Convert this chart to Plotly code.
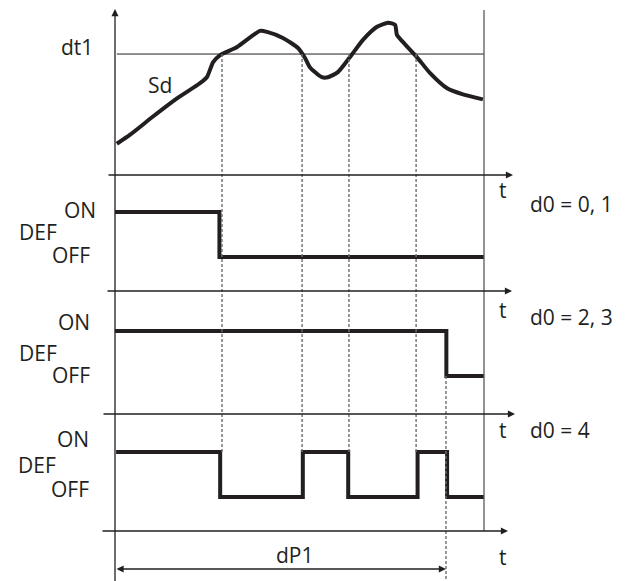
import plotly.graph_objects as go

W, H = 626, 581
PAGE_OFFSET = 8      # the page body margin shifts the plot by this many pixels

# Sd probe temperature over time
sd_time = [0.5, 4.1, 10.3, 16.8, 23.0, 24.9, 26.6, 28.5, 33.1, 39.3, 41.2, 45.5, 49.6, 51.5, 52.8,
           56.1, 57.7, 60.4, 63.7, 67.2, 71.0, 74.0, 75.9, 76.4, 78.0, 81.8, 85.4, 90.0, 94.3, 99.7]
sd_value = [3.1, 4.0, 5.8, 7.6, 9.1, 9.7, 11.2, 11.9, 12.7, 14.3, 14.2, 13.6, 12.6, 11.6, 10.7,
            9.7, 9.7, 10.2, 11.7, 13.4, 14.7, 15.1, 14.9, 13.9, 13.2, 11.7, 10.1, 8.6, 8.0, 7.5]
dt1 = 12.0
dt1_cross = [29.0, 50.7, 63.4, 81.6]   # times where Sd crosses dt1
dP1 = 89.7
t_end = 100

# defrost output, 1 = ON, 0 = OFF
def_d01_time = [0, 28.3, 100]
def_d01_state = [1, 0, 0]
def_d23_time = [0, 89.8, 100]
def_d23_state = [1, 0, 0]
def_d4_time = [0.3, 28.5, 50.9, 63.2, 82.0, 90.0, 100]
def_d4_state = [1, 0, 1, 0, 1, 0, 0]

panel_labels = ["d0 = 0, 1", "d0 = 2, 3", "d0 = 4"]

INK = "#231f20"
FONT = dict(family="Open Sans", size=21, color=INK)

PX_PER_T = 3.69      # horizontal scale
T0_PX = 115          # page pixel of t = 0


def yp(py):
    return 1 - (py - PAGE_OFFSET) / H


def xp(px):
    return (px - PAGE_OFFSET) / W


def state_range(bottom_px, top_px, off_px, on_px):
    k = off_px - on_px
    return [-(bottom_px - off_px) / k, 1 + (on_px - top_px) / k]


axes = {
    "y": dict(domain=[yp(175), yp(8)], range=[0, (175 - 8) / 10.08]),
    "y2": dict(domain=[yp(291), yp(175)], range=state_range(291, 175, 257, 212)),
    "y3": dict(domain=[yp(414), yp(291)], range=state_range(414, 291, 376, 331)),
    "y4": dict(domain=[yp(531), yp(414)], range=state_range(531, 414, 497, 452)),
}


def to_paper(ax, v):
    d0, d1 = axes[ax]["domain"]
    r0, r1 = axes[ax]["range"]
    return d0 + (v - r0) / (r1 - r0) * (d1 - d0)


fig = go.Figure()

fig.add_trace(go.Scatter(x=sd_time, y=sd_value, mode="lines", yaxis="y",
                         line=dict(color=INK, width=4, shape="spline", smoothing=0.6)))
for times, states, ax in [(def_d01_time, def_d01_state, "y2"),
                          (def_d23_time, def_d23_state, "y3"),
                          (def_d4_time, def_d4_state, "y4")]:
    fig.add_trace(go.Scatter(x=times, y=states, mode="lines", yaxis=ax,
                             line=dict(color=INK, width=4, shape="hv")))

shapes = []
# dt1 threshold
shapes.append(dict(type="line", xref="x", yref="y", x0=0.5, x1=t_end, y0=dt1, y1=dt1,
                   line=dict(color=INK, width=1)))
# right border
shapes.append(dict(type="line", xref="x", yref="paper", x0=t_end, x1=t_end,
                   y0=to_paper("y4", axes["y4"]["range"][0]), y1=yp(10),
                   line=dict(color="#58595b", width=1.3)))
# dashed guides
dash = dict(color="#6d6e71", width=1.4, dash="3px,2px")
for t in dt1_cross:
    shapes.append(dict(type="line", xref="x", yref="paper", x0=t, x1=t,
                       y0=to_paper("y", dt1), y1=to_paper("y4", 1), line=dash))
shapes.append(dict(type="line", xref="x", yref="paper", x0=dP1, x1=dP1,
                   y0=to_paper("y3", 0), y1=yp(590), line=dash))

ann = []
arrow = dict(text="", showarrow=True, arrowhead=2, arrowsize=1.1, arrowwidth=1.3,
             arrowcolor=INK, standoff=0)
# vertical axis
ann.append(dict(arrow, x=0, xref="x", y=yp(8), yref="paper", ax=0, ay=590, axref="pixel", ayref="pixel"))
# time axes
for ax, tail_px, tip_px in [("y", 107, 513), ("y2", 106, 512), ("y3", 102, 515), ("y4", 101, 508)]:
    ann.append(dict(arrow, x=(tip_px - T0_PX) / PX_PER_T, xref="x", y=0, yref=ax + " domain",
                    ax=(tail_px - T0_PX) / PX_PER_T, axref="x", ay=0, ayref="pixel"))
# dP1 span
ann.append(dict(arrow, x=dP1, xref="x", y=yp(569), yref="paper", ax=0, axref="x",
                ay=0, ayref="pixel", arrowside="end+start"))


def label(text, x, y, xanchor="center"):
    ann.append(dict(text=text, x=xp(x), y=yp(y), xref="paper", yref="paper", showarrow=False,
                    xanchor=xanchor, yanchor="middle", font=FONT))


label("dt1", 77, 47)
label("Sd", 160, 85)
for ty in [189.5, 310, 430, 557]:
    label("t", 503, ty)
for text, ty in zip(panel_labels, [204, 317, 430]):
    label(text, 528, ty, "left")
for on_x, on_y, def_x, def_y, off_x, off_y in [(98, 210.5, 17, 232, 92, 255),
                                               (92, 322, 17, 353, 92, 375),
                                               (91, 438.5, 16, 465, 91, 488.5)]:
    label("ON", on_x, on_y, "right")
    label("DEF", def_x, def_y, "left")
    label("OFF", off_x, off_y, "right")
label("dP1", 295, 555)

hidden = dict(visible=False, showgrid=False, zeroline=False, fixedrange=True)
layout_axes = {}
for name, spec in axes.items():
    key = "yaxis" if name == "y" else "yaxis" + name[1:]
    layout_axes[key] = dict(hidden, domain=spec["domain"], range=spec["range"], anchor="x")

x_left = (PAGE_OFFSET - T0_PX) / PX_PER_T
fig.update_layout(
    width=W, height=H, autosize=False,
    margin=dict(l=0, r=0, t=0, b=0),
    paper_bgcolor="white", plot_bgcolor="white",
    showlegend=False,
    xaxis=dict(hidden, domain=[0, 1], range=[x_left, x_left + W / PX_PER_T]),
    shapes=shapes, annotations=ann,
    **layout_axes,
)

fig.write_html("out.html")
